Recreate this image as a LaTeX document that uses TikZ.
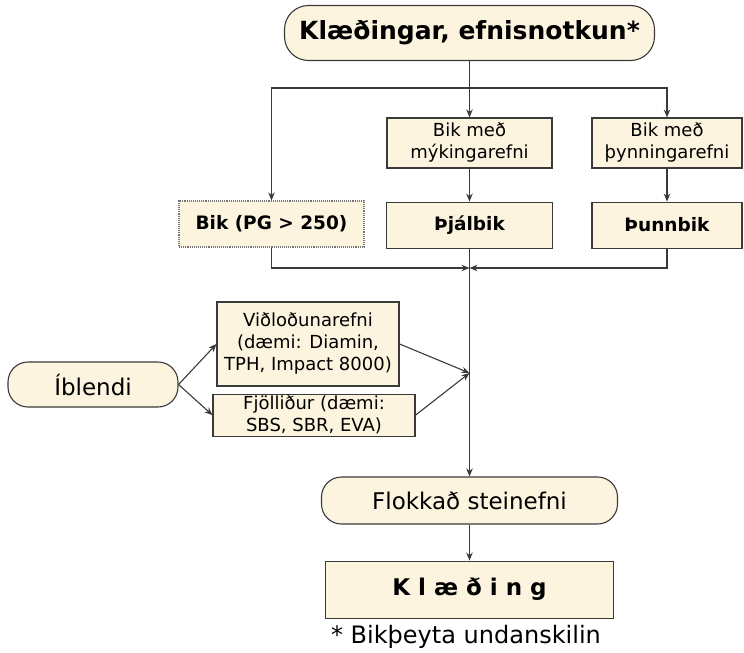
\documentclass[tikz,border=0pt]{standalone}
\usepackage{fontspec}
\setmainfont{DejaVu Sans}
\usetikzlibrary{arrows.meta,positioning,calc}
\definecolor{cream}{HTML}{FCF4DF}
\definecolor{edgegray}{HTML}{3A3A3A}

\begin{document}
\begin{tikzpicture}[x=1pt,y=-1pt,
    box/.style={draw=edgegray, line width=1.1pt, fill=cream, rectangle, align=center, inner sep=2pt},
    pill/.style={box, rounded corners=20pt},
    arr/.style={draw=edgegray, line width=1.1pt, -{Stealth[length=8pt,width=6.5pt]}},
    plain/.style={draw=edgegray, line width=1.1pt},
    txt/.style={font=\fontsize{18}{22}\selectfont},
    btxt/.style={font=\bfseries\fontsize{18.5}{22}\selectfont}]
  \useasboundingbox (0,0) rectangle (744,653);

  % top
  \draw node[pill, rounded corners=24pt, minimum width=370pt, minimum height=55pt, font=\bfseries\fontsize{25}{30}\selectfont] (title) at (469.5,33) {Klæðingar, efnisnotkun*};
  \coordinate (split) at (469.5,88);

  % bitumen types
  \draw node[box, txt, minimum width=165pt, minimum height=50pt] (soft) at (469.5,143) {Bik með\\mýkingarefni};
  \draw node[box, txt, minimum width=150pt, minimum height=50pt] (thin) at (667,143) {Bik með\\þynningarefni};
  \draw node[box, btxt, draw=edgegray!70, densely dotted, minimum width=185pt, minimum height=46pt] (bik) at (271.5,224) {Bik (PG > 250)};
  \draw node[box, btxt, minimum width=166pt, minimum height=46pt, below = 33pt of soft] (pjal) {Þjálbik};
  \draw node[box, btxt, minimum width=150pt, minimum height=46pt, below = 33pt of thin] (punn) {Þunnbik};

  % additives
  \draw node[pill, font=\fontsize{23}{27}\selectfont, minimum width=170pt, minimum height=45pt] (ibl) at (93,384.5) {Íblendi};
  \draw node[box, txt, minimum width=182pt, minimum height=84pt] (vid) at (308,344) {Viðloðunarefni\\(dæmi: Diamin,\\TPH, Impact 8000)};
  \draw node[box, txt, minimum width=202pt, minimum height=40pt, below = 7pt of vid, xshift=6pt] (fjol) {Fjölliður (dæmi:\\SBS, SBR, EVA)};

  % aggregate and result
  \draw node[pill, font=\fontsize{23}{27}\selectfont, minimum width=296pt, minimum height=47pt] (flokk) at (469.5,500.5) {Flokkað steinefni};
  \draw node[box, font=\bfseries\fontsize{23}{26}\selectfont, minimum width=288pt, minimum height=57pt, below = 36pt of flokk] (klaed) {K l æ ð i n g};
  \draw node[font=\fontsize{24}{28}\selectfont] (note) at (466,637) {* Bikþeyta undanskilin};

  \coordinate (merge) at (469.5,268);
  \coordinate (join) at (469.5,373);

  \draw[plain] (title.south) -- (split);
  \draw[arr] (split) -| (bik.north);
  \draw[arr] (split) -| (thin.north);
  \draw[arr] (split) -- (soft.north);
  \draw[arr] (soft) -- (pjal);
  \draw[arr] (thin) -- (punn);
  \draw[arr] (bik.south) |- (merge);
  \draw[arr] (punn.south) |- (merge);
  \draw[arr] (pjal.south) -- (flokk.north);
  \draw[arr] (ibl.east) -- (vid.west);
  \draw[arr] (ibl.east) -- (fjol.west);
  \draw[arr] (vid.east) -- (join);
  \draw[arr] (fjol.east) -- (join);
  \draw[arr] (flokk) -- (klaed);
\end{tikzpicture}
\end{document}
